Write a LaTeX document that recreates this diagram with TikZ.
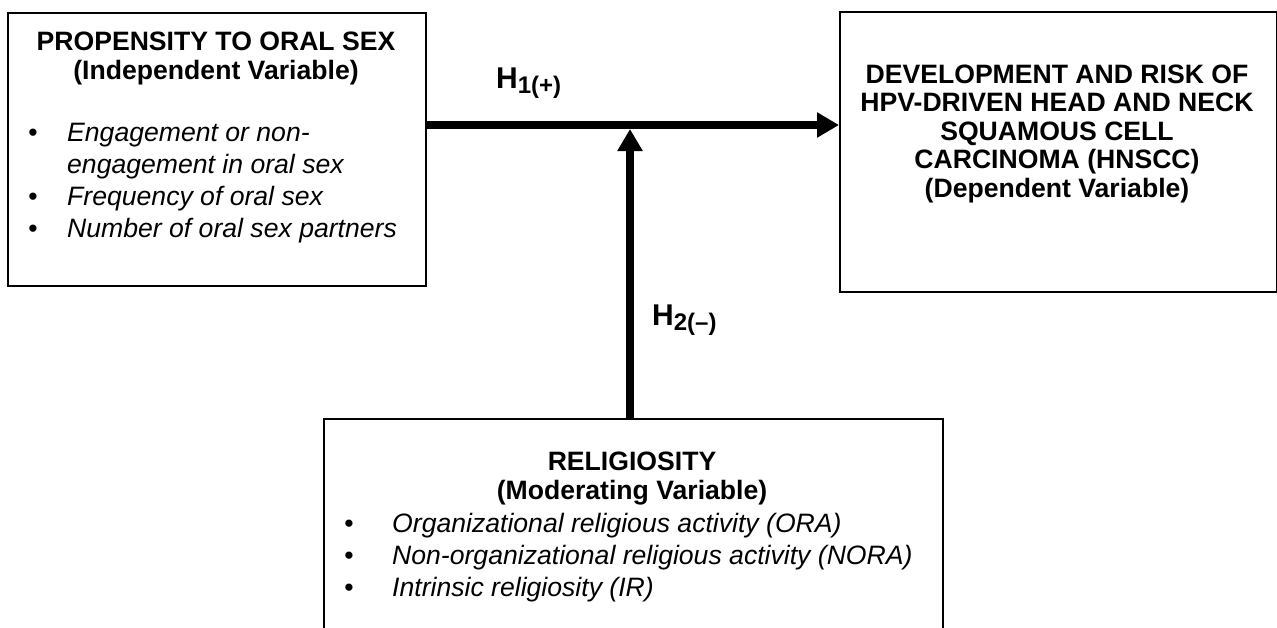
\documentclass[tikz,border=0pt]{standalone}
\usepackage{fontspec}
\setmainfont{Liberation Sans}
\usetikzlibrary{arrows.meta}
\begin{document}
\begin{tikzpicture}[x=1pt,y=-1pt,
  box/.style={draw,line width=2.2pt,inner sep=0pt,anchor=north west},
  rg/.style={inner sep=0pt,font=\fontsize{26.6}{29}\selectfont},
  bf/.style={rg,font=\fontsize{26.6}{29}\selectfont\bfseries,anchor=base},
  it/.style={rg,font=\fontsize{26.6}{29}\selectfont\itshape,anchor=base west},
  bul/.style={rg,anchor=base},
  hyp/.style={inner sep=0pt,anchor=base west,font=\fontsize{30}{33}\selectfont\bfseries},
  conn/.style={line width=8pt,-{Triangle[length=22pt,width=24pt]}}]
\useasboundingbox (0,0) rectangle (1277,627);
\clip (0,0) rectangle (1277,627);
% boxes
\node[box,minimum width=418pt,minimum height=273pt] (L) at (7,12) {};
\node[box,minimum width=437pt,minimum height=280pt] (R) at (839,11) {};
\node[box,minimum width=619pt,minimum height=260pt] (B) at (323,418) {};
% connectors
\coordinate (j) at (630,125);
\coordinate (jt) at (630,129);
\draw[conn] (L.east |- j) -- (R.west |- j);
\draw[conn] (B.north -| j) -- (jt);
% hypothesis labels
\node[hyp] (h1) at (496,88) {H\raisebox{-5pt}{\fontsize{24}{26}\selectfont 1(+)}};
\node[hyp] (h2) at (652,325) {H\raisebox{-5pt}{\fontsize{24}{26}\selectfont 2(–)}};
% left box text
\node[bf] (l1) at (216,50) {PROPENSITY TO ORAL SEX};
\node[bf] (l2) at (216,79) {(Independent Variable)};
\node[bul] (lb1) at (33,141) {•};
\node[it] (li1) at (67,141) {Engagement or non-};
\node[it] (li1b) at (67,173) {engagement in oral sex};
\node[bul] (lb2) at (33,205) {•};
\node[it] (li2) at (67,205) {Frequency of oral sex};
\node[bul] (lb3) at (33,237) {•};
\node[it] (li3) at (67,237) {Number of oral sex partners};
% right box text
\node[bf] (r1) at (1057,83) {DEVELOPMENT AND RISK OF};
\node[bf] (r2) at (1057,111.5) {HPV-DRIVEN HEAD AND NECK};
\node[bf] (r3) at (1057,140) {SQUAMOUS CELL};
\node[bf] (r4) at (1057,168.5) {CARCINOMA (HNSCC)};
\node[bf] (r5) at (1057,197) {(Dependent Variable)};
% bottom box text
\node[bf] (b1) at (632,470) {RELIGIOSITY};
\node[bf] (b2) at (632,499) {(Moderating Variable)};
\node[bul] (bb1) at (349,532) {•};
\node[it] (bi1) at (392,532) {Organizational religious activity (ORA)};
\node[bul] (bb2) at (349,564) {•};
\node[it] (bi2) at (392,564) {Non-organizational religious activity (NORA)};
\node[bul] (bb3) at (349,596) {•};
\node[it] (bi3) at (392,596) {Intrinsic religiosity (IR)};
\end{tikzpicture}
\end{document}
